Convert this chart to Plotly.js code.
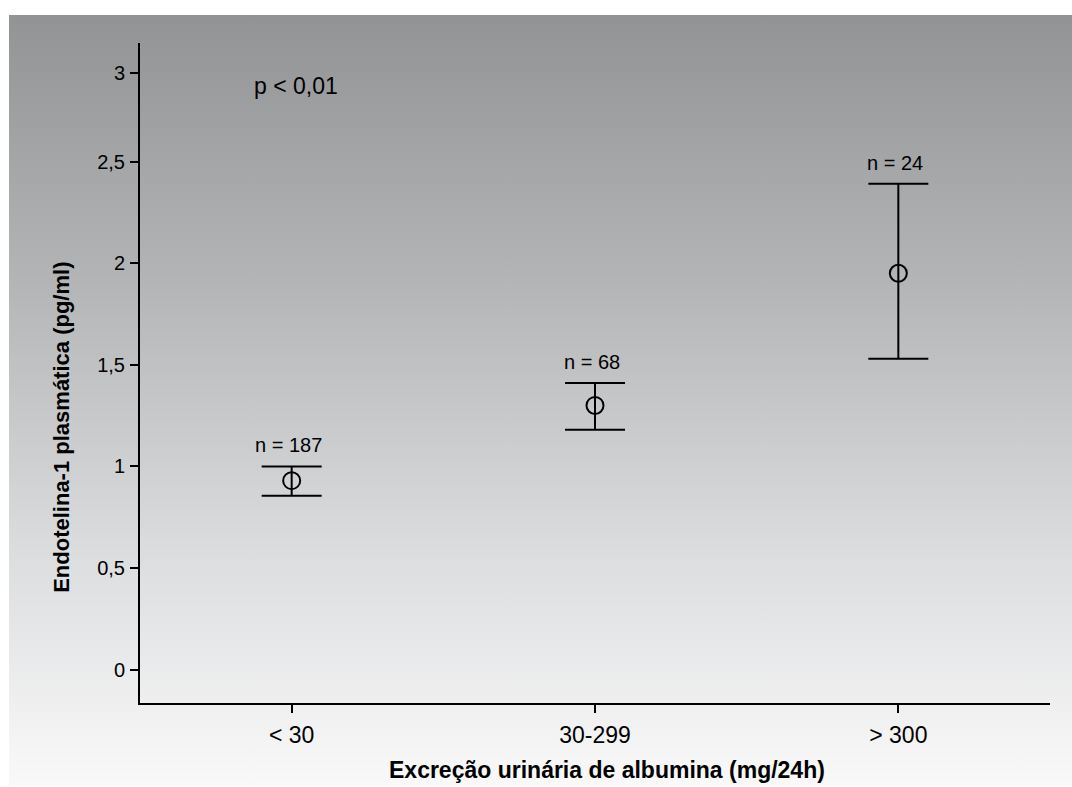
<!DOCTYPE html>
<html>
<head>
<meta charset="utf-8">
<script src="https://cdn.plot.ly/plotly-3.0.1.min.js"></script>
<style>
  html, body { margin: 0; padding: 0; background: #ffffff; }
  #bg { position: absolute; left: 9px; top: 15px; width: 1063px; height: 771px;
        background: linear-gradient(to bottom, #929395 0%, #b4b5b7 35%, #dcdddf 70%, #f9f9f9 100%); }
  #chart { position: absolute; left: 0; top: 0; width: 1072px; height: 787px; }
</style>
</head>
<body>
<div id="bg"></div>
<div id="chart"></div>
<script>
// Data
const categories = ["< 30", "30-299", "> 300"];
const means = [0.93, 1.30, 1.95];
const upper = [1.00, 1.41, 2.39];
const lower = [0.855, 1.18, 1.53];
const nLabels = ["n = 187", "n = 68", "n = 24"];
const yTickVals = [0, 0.5, 1, 1.5, 2, 2.5, 2.937];
const yTickText = ["0", "0,5", "1", "1,5", "2", "2,5", "3"];

const FONT = '"Liberation Sans", Arial, sans-serif';

const trace = {
  x: categories,
  y: means,
  type: 'scatter',
  mode: 'markers',
  marker: { symbol: 'circle-open', size: 17, color: '#000', line: { width: 2, color: '#000' } },
  error_y: {
    type: 'data', symmetric: false,
    array: upper.map((u, i) => u - means[i]),
    arrayminus: lower.map((l, i) => means[i] - l),
    color: '#000', thickness: 2, width: 30
  },
  hoverinfo: 'skip',
  showlegend: false
};

const annotations = categories.map((c, i) => ({
  x: c, y: upper[i], xref: 'x', yref: 'y', text: nLabels[i], showarrow: false,
  xanchor: 'center', yanchor: 'middle',
  yshift: 21, xshift: -3, font: { family: FONT, size: 20, color: '#000' }
}));
annotations.push({
  xref: 'paper', yref: 'paper', x: (296 - 140) / 910, y: (703.3 - 86) / 660.3,
  xanchor: 'center', yanchor: 'middle',
  text: 'p < 0,01', showarrow: false, font: { family: FONT, size: 23, color: '#000' }
});
annotations.push({
  xref: 'paper', yref: 'paper', x: (62 - 140) / 910, y: (703.3 - 428) / 660.3,
  xanchor: 'center', yanchor: 'middle',
  text: 'Endotelina-1 plasmática (pg/ml)', textangle: -90, showarrow: false,
  font: { family: FONT, size: 22, color: '#000', weight: 'bold' }
});
annotations.push({
  xref: 'paper', yref: 'paper', x: (607 - 140) / 910, y: (703.3 - 770) / 660.3,
  xanchor: 'center', yanchor: 'middle',
  text: 'Excreção urinária de albumina (mg/24h)', showarrow: false,
  font: { family: FONT, size: 23, color: '#000', weight: 'bold' }
});

const layout = {
  width: 1072, height: 787,
  margin: { l: 140, r: 22, t: 43, b: 84, pad: 0 },
  paper_bgcolor: 'rgba(0,0,0,0)',
  plot_bgcolor: 'rgba(0,0,0,0)',
  font: { family: FONT, size: 20, color: '#000' },
  xaxis: {
    type: 'category', range: [-0.5, 2.5], showgrid: false, zeroline: false,
    showline: true, linecolor: '#000', linewidth: 2,
    ticks: 'outside', ticklen: 8, tickwidth: 2, tickcolor: '#000',
    tickfont: { family: FONT, size: 23, color: '#000' }, ticklabelstandoff: 2
  },
  yaxis: {
    range: [-0.164, 3.083], showgrid: false, zeroline: false,
    showline: true, linecolor: '#000', linewidth: 2,
    ticks: 'outside', ticklen: 8, tickwidth: 2, tickcolor: '#000',
    tickvals: yTickVals, ticktext: yTickText,
    tickfont: { family: FONT, size: 20, color: '#000' }, ticklabelstandoff: 1
  },
  annotations: annotations
};

Plotly.newPlot('chart', [trace], layout, { displayModeBar: false, staticPlot: true });
</script>
</body>
</html>
